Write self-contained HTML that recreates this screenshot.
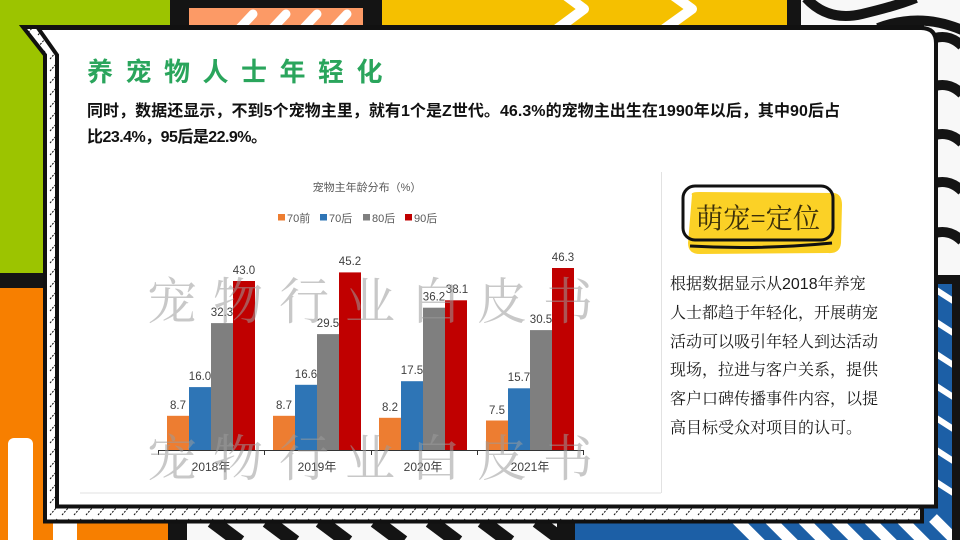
<!DOCTYPE html>
<html>
<head>
<meta charset="utf-8">
<style>
html,body{margin:0;padding:0;background:#fff;}
body{width:960px;height:540px;overflow:hidden;}
svg{display:block;}
.sans{font-family:"Liberation Sans","Noto Sans CJK SC",sans-serif;}
.serif{font-family:"Liberation Serif","Noto Serif CJK SC",serif;}
</style>
</head>
<body>
<svg width="960" height="540" viewBox="0 0 960 540" xmlns="http://www.w3.org/2000/svg">
<defs>
  <pattern id="hatch" width="12" height="12" patternUnits="userSpaceOnUse">
    <rect width="12" height="12" fill="#fff"/>
    <line x1="2" y1="11" x2="9" y2="3" stroke="#111" stroke-width="1" stroke-dasharray="2 1.3"/>
  </pattern>
  <clipPath id="cBotW"><rect x="187" y="523" width="370" height="17"/></clipPath>
  <clipPath id="cBotB"><rect x="575" y="506" width="377" height="34"/></clipPath>
  <clipPath id="cRB"><rect x="937" y="284" width="15" height="256"/></clipPath>
  <clipPath id="cSal"><rect x="189" y="8" width="174" height="19"/></clipPath>
  <clipPath id="cYel"><rect x="382" y="0" width="405" height="27"/></clipPath>
  <clipPath id="cTR"><rect x="800" y="0" width="160" height="275"/></clipPath>
</defs>

<!-- ===== background ===== -->
<rect x="0" y="0" width="960" height="540" fill="#f8f8f8"/>
<!-- left -->
<rect x="0" y="0" width="172" height="274" fill="#9cc400"/>
<rect x="0" y="273" width="50" height="15" fill="#141414"/>
<rect x="0" y="288" width="170" height="252" fill="#f77f00"/>
<rect x="8" y="438" width="25" height="120" rx="6" fill="#fff"/>
<rect x="53" y="470" width="24" height="90" rx="5" fill="#fff"/>
<!-- top -->
<rect x="170" y="0" width="212" height="28" fill="#141414"/>
<rect x="189" y="8" width="174" height="20" fill="#fc9a66"/>
<g clip-path="url(#cSal)" stroke="#fff" stroke-width="9" stroke-linecap="round">
  <line x1="238" y1="30" x2="253" y2="14"/>
  <line x1="271" y1="30" x2="286" y2="14"/>
  <line x1="302" y1="30" x2="317" y2="14"/>
  <line x1="332" y1="30" x2="347" y2="14"/>
</g>
<rect x="382" y="0" width="406" height="28" fill="#f5c000"/>
<g clip-path="url(#cYel)" stroke="#fff" stroke-width="10" fill="none" stroke-linejoin="round">
  <polyline points="553,-14 584,9 553,32"/>
  <polyline points="660,-14 692,9 660,32"/>
</g>
<rect x="787" y="0" width="14" height="28" fill="#141414"/>
<!-- top right waves -->
<g clip-path="url(#cTR)" stroke="#141414" stroke-width="10" fill="none">
  <path d="M806,-2 Q828,22 862,14 T916,-2"/>
  <path d="M878,28 Q920,12 962,30"/>
  <path d="M935,38 Q950,34 962,46"/>
  <path d="M935,86 Q950,82 962,94"/>
  <path d="M935,135 Q950,131 962,143"/>
  <path d="M935,183 Q950,179 962,191"/>
  <path d="M935,233 Q950,229 962,241"/>
</g>
<!-- right lower -->
<rect x="930" y="275" width="30" height="265" fill="#141414"/>
<rect x="937" y="284" width="15" height="256" fill="#1c5fa6"/>
<g clip-path="url(#cRB)" stroke="#fff" stroke-width="6">
  <line x1="930" y1="286" x2="958" y2="304"/>
  <line x1="930" y1="318" x2="958" y2="336"/>
  <line x1="930" y1="350" x2="958" y2="368"/>
  <line x1="930" y1="382" x2="958" y2="400"/>
  <line x1="930" y1="414" x2="958" y2="432"/>
  <line x1="930" y1="446" x2="958" y2="464"/>
  <line x1="930" y1="478" x2="958" y2="496"/>
  <line x1="930" y1="510" x2="958" y2="528"/>
</g>
<!-- bottom strip -->
<rect x="168" y="506" width="20" height="34" fill="#141414"/>
<rect x="187" y="506" width="370" height="34" fill="#f8f8f8"/>
<g clip-path="url(#cBotW)" stroke="#141414" stroke-width="14">
  <line x1="212" y1="521" x2="240" y2="542"/>
  <line x1="267" y1="521" x2="295" y2="542"/>
  <line x1="320" y1="521" x2="348" y2="542"/>
  <line x1="375" y1="521" x2="403" y2="542"/>
  <line x1="430" y1="521" x2="458" y2="542"/>
  <line x1="482" y1="521" x2="510" y2="542"/>
  <line x1="537" y1="521" x2="565" y2="542"/>
</g>
<rect x="557" y="506" width="18" height="34" fill="#141414"/>
<rect x="575" y="506" width="377" height="34" fill="#1c5fa6"/>
<g clip-path="url(#cBotB)" stroke="#fff" stroke-width="11">
  <line x1="735" y1="518" x2="762" y2="545"/>
  <line x1="768" y1="518" x2="795" y2="545"/>
  <line x1="801" y1="518" x2="828" y2="545"/>
  <line x1="834" y1="518" x2="861" y2="545"/>
  <line x1="867" y1="518" x2="894" y2="545"/>
  <line x1="900" y1="518" x2="927" y2="545"/>
  <line x1="933" y1="518" x2="960" y2="545"/>
</g>

<!-- ===== card ===== -->
<path d="M23,27 L922,27 L922,521.5 L45,521.5 L45,55 Z" fill="url(#hatch)" stroke="#111" stroke-width="4" stroke-linejoin="miter"/>
<path d="M38,28 L57,55 L57,506.5 L936,506.5 L936,43 Q936,28 921,28 Z" fill="#fff" stroke="#111" stroke-width="4"/>

<!-- title -->
<text class="sans" y="81" font-size="26" font-weight="700" fill="#2aa55c" x="87 125.5 164 202.5 241 279.5 318 356.5">养宠物人士年轻化</text>

<!-- body -->
<text class="sans" x="87" y="116" font-size="16" font-weight="700" fill="#111" textLength="753" lengthAdjust="spacing">同时，数据还显示，不到5个宠物主里，就有1个是Z世代。46.3%的宠物主出生在1990年以后，其中90后占</text>
<text class="sans" x="87" y="142" font-size="16" font-weight="700" fill="#111" textLength="180" lengthAdjust="spacing">比23.4%，95后是22.9%。</text>

<!-- chart frame lines -->
<line x1="80" y1="493" x2="661" y2="493" stroke="#e2e2e2" stroke-width="1"/>
<line x1="661.5" y1="172" x2="661.5" y2="493" stroke="#e2e2e2" stroke-width="1"/>

<!-- chart title + legend -->
<text class="sans" x="367" y="191" font-size="11" fill="#595959" text-anchor="middle">宠物主年龄分布（%）</text>
<g class="sans" font-size="11" fill="#595959">
  <rect x="278" y="214" width="7" height="6.5" fill="#ed7d31"/><text x="287" y="222">70前</text>
  <rect x="320" y="214" width="7" height="6.5" fill="#2e75b6"/><text x="329" y="222">70后</text>
  <rect x="363" y="214" width="7" height="6.5" fill="#7f7f7f"/><text x="372" y="222">80后</text>
  <rect x="405" y="214" width="7" height="6.5" fill="#c00000"/><text x="414" y="222">90后</text>
</g>

<!-- bars -->
<g>
  <!-- 2018 -->
  <rect x="167" y="415.8" width="22" height="34.2" fill="#ed7d31"/>
  <rect x="189" y="387.1" width="22" height="62.9" fill="#2e75b6"/>
  <rect x="211" y="323.1" width="22" height="126.9" fill="#7f7f7f"/>
  <rect x="233" y="281" width="22" height="169" fill="#c00000"/>
  <!-- 2019 -->
  <rect x="273" y="415.8" width="22" height="34.2" fill="#ed7d31"/>
  <rect x="295" y="384.8" width="22" height="65.2" fill="#2e75b6"/>
  <rect x="317" y="334.1" width="22" height="115.9" fill="#7f7f7f"/>
  <rect x="339" y="272.4" width="22" height="177.6" fill="#c00000"/>
  <!-- 2020 -->
  <rect x="379" y="417.8" width="22" height="32.2" fill="#ed7d31"/>
  <rect x="401" y="381.2" width="22" height="68.8" fill="#2e75b6"/>
  <rect x="423" y="307.7" width="22" height="142.3" fill="#7f7f7f"/>
  <rect x="445" y="300.3" width="22" height="149.7" fill="#c00000"/>
  <!-- 2021 -->
  <rect x="486" y="420.5" width="22" height="29.5" fill="#ed7d31"/>
  <rect x="508" y="388.3" width="22" height="61.7" fill="#2e75b6"/>
  <rect x="530" y="330.1" width="22" height="119.9" fill="#7f7f7f"/>
  <rect x="552" y="268" width="22" height="182" fill="#c00000"/>
</g>

<!-- axis -->
<g stroke="#333" stroke-width="1">
  <line x1="158" y1="450.5" x2="584" y2="450.5"/>
  <line x1="158.5" y1="450" x2="158.5" y2="455"/>
  <line x1="264.5" y1="450" x2="264.5" y2="455"/>
  <line x1="371.5" y1="450" x2="371.5" y2="455"/>
  <line x1="477.5" y1="450" x2="477.5" y2="455"/>
  <line x1="583.5" y1="450" x2="583.5" y2="455"/>
</g>

<!-- value labels -->
<g class="sans" font-size="11.5" fill="#404040" text-anchor="middle">
  <text x="178" y="409">8.7</text>
  <text x="200" y="380">16.0</text>
  <text x="222" y="316">32.3</text>
  <text x="244" y="274">43.0</text>
  <text x="284" y="409">8.7</text>
  <text x="306" y="378">16.6</text>
  <text x="328" y="327">29.5</text>
  <text x="350" y="265">45.2</text>
  <text x="390" y="411">8.2</text>
  <text x="412" y="374">17.5</text>
  <text x="434" y="300.5">36.2</text>
  <text x="457" y="293">38.1</text>
  <text x="497" y="414">7.5</text>
  <text x="519" y="381">15.7</text>
  <text x="541" y="323">30.5</text>
  <text x="563" y="261">46.3</text>
</g>

<!-- year labels -->
<g class="sans" font-size="12" fill="#404040" text-anchor="middle">
  <text x="211" y="471">2018年</text>
  <text x="317" y="471">2019年</text>
  <text x="423" y="471">2020年</text>
  <text x="530" y="471">2021年</text>
</g>

<!-- watermark -->
<g class="serif" font-size="50" fill="#9a9a9a" fill-opacity="0.55">
  <text y="319" x="147 213 279 345 411 477 543">宠物行业白皮书</text>
  <text y="476" x="147 213 279 345 411 477 543">宠物行业白皮书</text>
</g>

<!-- badge -->
<path d="M692,195 Q690,192 700,192 L834,193 Q842,194 842,205 L841,243 Q840,254 828,253 L700,254 Q688,254 688,243 Z" fill="#fbd126"/>
<rect x="683" y="186" width="150" height="54" rx="12" fill="none" stroke="#111" stroke-width="3"/>
<path d="M690,246 Q760,250 832,243" fill="none" stroke="#111" stroke-width="3"/>
<text class="serif" x="696" y="228" font-size="28" fill="#3b2f0a" textLength="124" lengthAdjust="spacingAndGlyphs">萌宠=定位</text>

<!-- right text -->
<g font-size="16" fill="#1a1a1a" style="font-family:'Liberation Sans','Noto Serif CJK SC',serif;">
  <text x="670" y="289">根据数据显示从2018年养宠</text>
  <text x="670" y="318">人士都趋于年轻化，开展萌宠</text>
  <text x="670" y="347">活动可以吸引年轻人到达活动</text>
  <text x="670" y="375">现场，拉进与客户关系，提供</text>
  <text x="670" y="404">客户口碑传播事件内容，以提</text>
  <text x="670" y="433">高目标受众对项目的认可。</text>
</g>
</svg>
</body>
</html>
